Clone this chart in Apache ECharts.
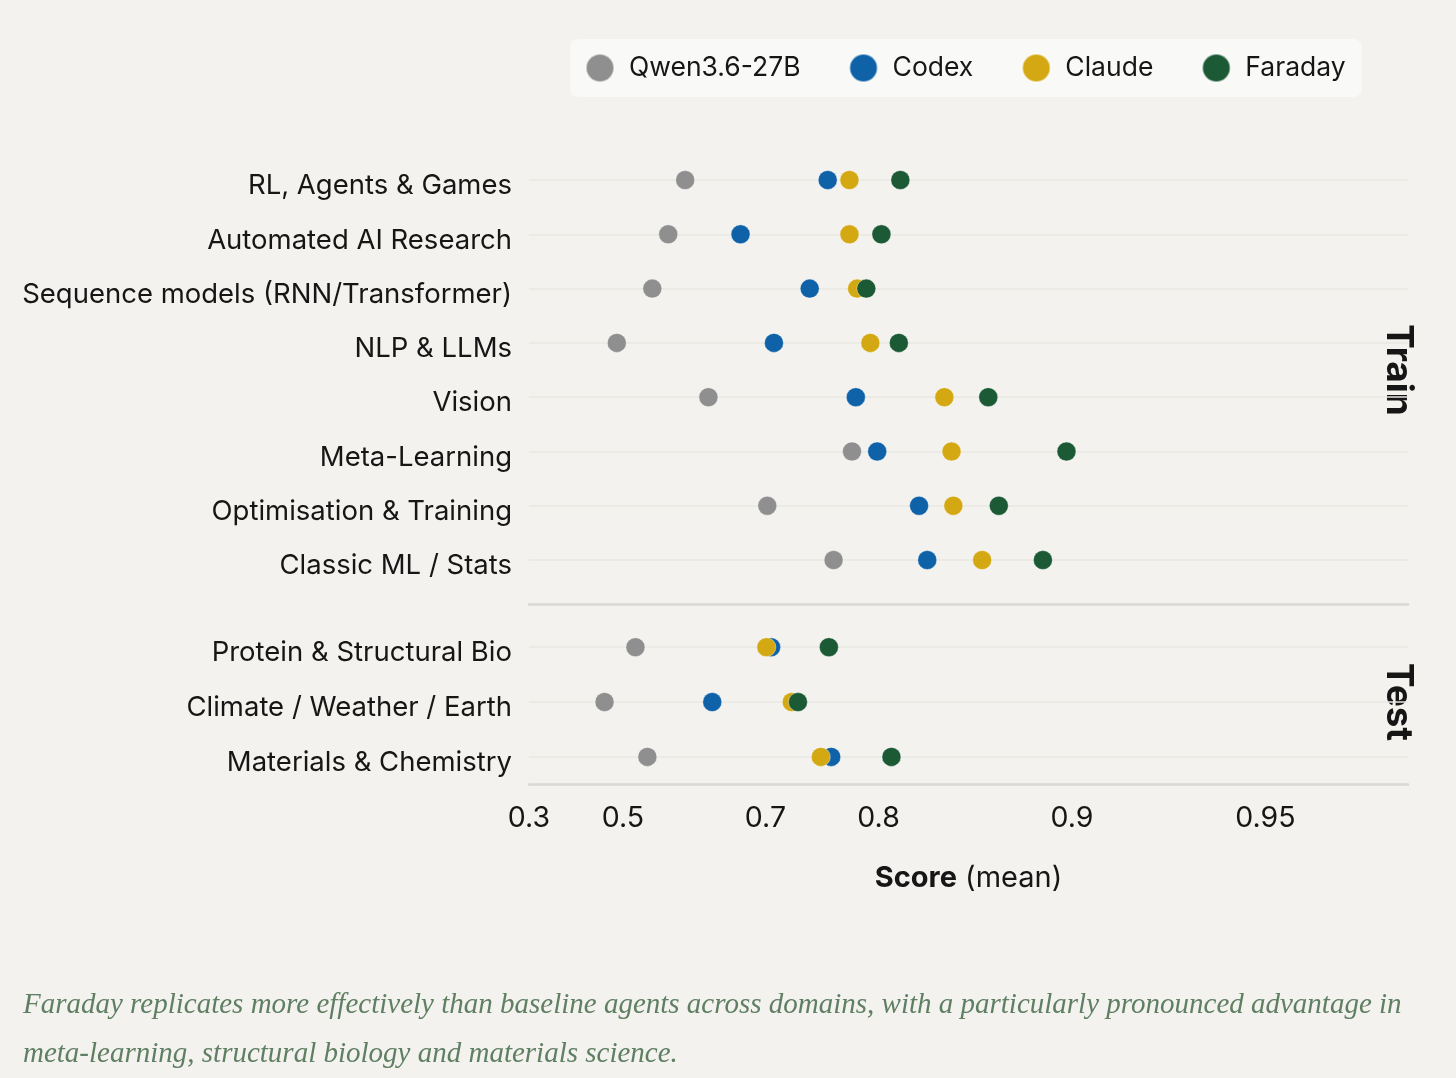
<!DOCTYPE html>
<html lang="en">
<head>
    <meta charset="UTF-8" />
    <title>Score by domain</title>
    <script src="https://cdn.jsdelivr.net/npm/echarts@6/dist/echarts.min.js"></script>
    <style>
        html, body { margin: 0; padding: 0; background: #f3f2ee; }
        #main { width: 1456px; height: 1078px; }
    </style>
</head>
<body>
    <div id="main"></div>
    <script>
        // domains, top to bottom; first 8 are Train, last 3 are Test
        const trainCats = ["RL, Agents & Games", "Automated AI Research", "Sequence models (RNN/Transformer)",
            "NLP & LLMs", "Vision", "Meta-Learning", "Optimisation & Training", "Classic ML / Stats"];
        const testCats = ["Protein & Structural Bio", "Climate / Weather / Earth", "Materials & Chemistry"];

        const models = ["Qwen3.6-27B", "Codex", "Claude", "Faraday"];
        const colors = ["#8f8f8f", "#0f62a8", "#d4a813", "#1b5a35"];

        // mean scores, same order as trainCats / testCats
        const qwenTrain = [0.600, 0.575, 0.550, 0.489, 0.632, 0.780, 0.702, 0.765];
        const codexTrain = [0.760, 0.672, 0.744, 0.709, 0.783, 0.799, 0.827, 0.832];
        const claudeTrain = [0.778, 0.778, 0.784, 0.794, 0.842, 0.846, 0.847, 0.862];
        const faradayTrain = [0.815, 0.802, 0.791, 0.814, 0.865, 0.898, 0.870, 0.889];

        const qwenTest = [0.522, 0.466, 0.542];
        const codexTest = [0.706, 0.637, 0.763];
        const claudeTest = [0.701, 0.727, 0.754];
        const faradayTest = [0.761, 0.733, 0.809];

        const xTicks = [0.3, 0.5, 0.7, 0.8, 0.9, 0.95];
        const xMin = 0.3, xMax = 0.97;

        // x scale is -log(1 - score)
        const tf = s => -Math.log(1 - s);
        const untf = v => +(1 - Math.exp(-v)).toFixed(2);

        const FONT = "Inter";
        const INK = "#161616";
        const chart = echarts.init(document.getElementById("main"));

        function yAxisFor(gi, cats) {
            const idx = cats.map((c, i) => i);
            return {
                type: "value",
                gridIndex: gi,
                inverse: true,
                min: -0.5,
                max: cats.length - 0.5,
                axisLine: { show: false },
                axisTick: { show: false, customValues: idx },
                axisLabel: {
                    customValues: idx,
                    formatter: v => cats[Math.round(v)],
                    fontFamily: FONT, fontSize: 27.5, color: INK, margin: 17,
                    // labels sit a little below the row line in the original
                    verticalAlign: "top", lineHeight: 12
                },
                splitLine: { show: true, lineStyle: { color: "#e8e7e2", width: 1.5 } }
            };
        }

        const trainSets = [qwenTrain, codexTrain, claudeTrain, faradayTrain];
        const testSets = [qwenTest, codexTest, claudeTest, faradayTest];

        const series = [];
        [trainSets, testSets].forEach((sets, gi) => {
            sets.forEach((vals, k) => {
                series.push({
                    name: models[k],
                    type: "scatter",
                    xAxisIndex: gi,
                    yAxisIndex: gi,
                    symbolSize: 19,
                    itemStyle: { color: colors[k], opacity: 1, borderColor: "rgba(255,255,255,0.5)", borderWidth: 0.8 },
                    emphasis: { disabled: true },
                    data: vals.map((s, i) => [tf(s), i]),
                    z: 2 + k
                });
            });
        });

        const xBase = {
            type: "value",
            min: tf(xMin),
            max: tf(xMax),
            splitLine: { show: false },
            axisTick: { show: false }
        };
        const ruleLine = { show: true, onZero: false, lineStyle: { color: "#d9d8d5", width: 2.5 } };

        const option = {
            backgroundColor: "#f3f2ee",
            animation: false,
            legend: {
                data: models,
                left: 570,
                top: 39,
                icon: "circle",
                itemWidth: 28,
                itemHeight: 28,
                itemGap: 48,
                padding: [14, 16, 14, 15],
                backgroundColor: "#f9f9f8",
                borderRadius: 8,
                textStyle: { fontFamily: FONT, fontSize: 26.5, color: INK, padding: [0, 0, 0, 10] }
            },
            grid: [
                { left: 529, right: 48, top: 152.9, height: 434.3 },
                { left: 529, right: 48, top: 619.8, height: 164.5 }
            ],
            xAxis: [
                Object.assign({}, xBase, {
                    gridIndex: 0,
                    offset: 17,
                    axisLine: ruleLine,
                    axisLabel: { show: false }
                }),
                Object.assign({}, xBase, {
                    gridIndex: 1,
                    axisLine: ruleLine,
                    axisTick: { show: false, customValues: xTicks.map(tf) },
                    axisLabel: {
                        customValues: xTicks.map(tf),
                        formatter: v => String(untf(v)),
                        fontFamily: FONT, fontSize: 28.5, color: INK, margin: 20
                    },
                    name: "{b|Score} (mean)",
                    nameLocation: "middle",
                    nameGap: 79,
                    nameTextStyle: {
                        fontFamily: FONT, fontSize: 29, color: INK,
                        rich: { b: { fontFamily: FONT, fontSize: 29, fontWeight: "bold", color: INK } }
                    }
                })
            ],
            yAxis: [yAxisFor(0, trainCats), yAxisFor(1, testCats)],
            series: series,
            graphic: [
                {
                    type: "text", x: 1398, y: 370, rotation: -Math.PI / 2,
                    style: { text: "Train", font: "bold 37px " + FONT, fill: INK, textAlign: "center", textVerticalAlign: "middle" }
                },
                {
                    type: "text", x: 1398, y: 702, rotation: -Math.PI / 2,
                    style: { text: "Test", font: "bold 37px " + FONT, fill: INK, textAlign: "center", textVerticalAlign: "middle" }
                },
                {
                    type: "text", x: 23, y: 1030,
                    style: {
                        text: "Faraday replicates more effectively than baseline agents across domains, with a particularly pronounced advantage in\nmeta-learning, structural biology and materials science.",
                        font: "italic 29px 'Liberation Serif'",
                        lineHeight: 49,
                        fill: "#5f7f63",
                        textVerticalAlign: "middle"
                    }
                }
            ]
        };

        chart.setOption(option);
    </script>
</body>
</html>
